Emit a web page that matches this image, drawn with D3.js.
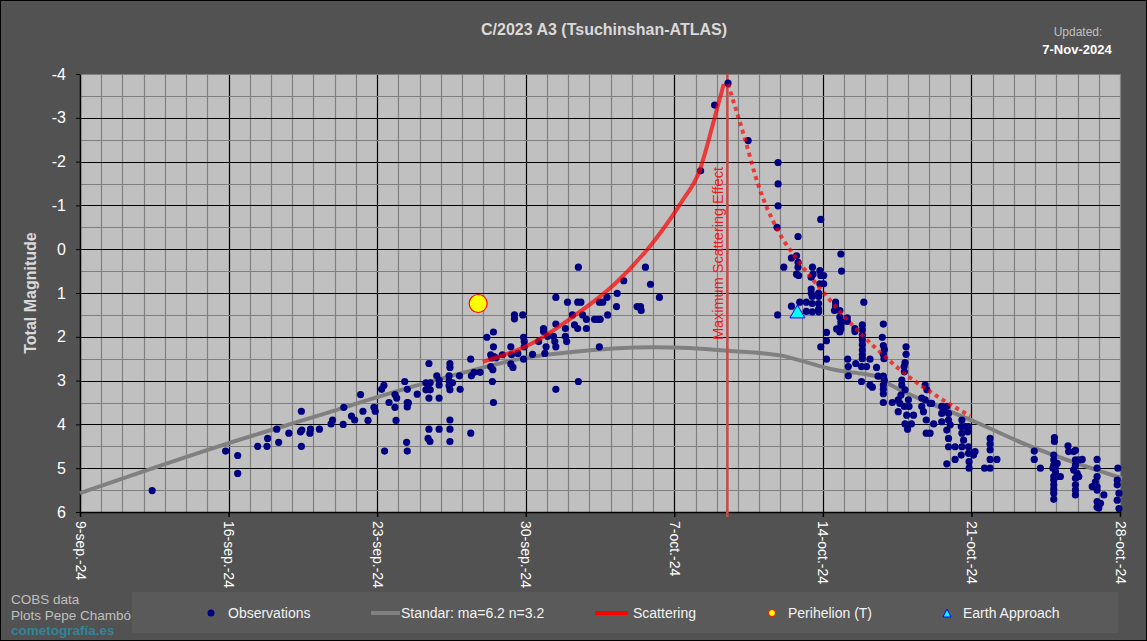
<!DOCTYPE html>
<html>
<head>
<meta charset="utf-8">
<script src="https://cdn.jsdelivr.net/npm/d3@7"></script>
<style>
  body { margin: 0; background: #525252; }
  svg { display: block; font-family: "Liberation Sans", Arial, sans-serif; }
</style>
</head>
<body>
<svg id="chart"></svg>
<script>
// days counted from 9-sep-2024, magnitudes
const observations = [
  [3.4,5.51],[6.86,4.61],[7.43,4.71],[7.43,5.12],[8.37,4.5],[8.81,4.5],[8.84,4.32],[9.27,4.11],[9.36,4.41],[9.84,4.2],
  [10.43,3.7],[10.43,4.5],[10.39,4.17],[10.45,4.13],[10.86,4.11],[10.83,4.2],[11.28,4.11],[11.83,3.99],[11.9,3.9],[12.4,4.0],
  [12.43,3.61],[12.79,3.81],[12.94,3.9],[13.22,3.32],[13.33,3.7],[13.57,3.91],[13.85,3.61],[13.91,3.7],[14.21,3.2],[14.32,3.11],
  [14.35,4.61],[14.56,3.5],[14.84,3.32],[14.92,3.4],[14.84,3.61],[14.89,3.91],[15.3,3.02],[15.42,3.2],[15.42,3.5],[15.42,3.6],
  [15.39,4.41],[15.42,4.61],[15.47,3.51],[15.89,3.31],
  [16.44,2.61],[16.3,3.05],[16.5,3.05],[16.4,3.12],[16.3,3.21],[16.5,3.21],[16.44,3.4],[16.44,4.11],[16.4,4.32],[16.49,4.39],
  [16.81,2.89],[16.92,2.99],[16.92,3.1],[16.92,3.4],[16.92,4.11],
  [17.43,2.61],[17.43,2.7],[17.39,2.89],[17.39,3.01],[17.39,3.12],[17.43,3.21],[17.55,3.05],[17.43,3.9],[17.43,4.11],[17.43,4.39],
  [17.88,2.89],[17.91,3.2],[18.41,2.51],[18.44,2.89],[18.57,2.81],[18.41,4.2],[18.85,2.81],
  [19.17,2.01],[19.48,1.89],[19.48,2.23],[19.35,2.41],[19.5,2.45],[19.4,2.48],[19.6,2.48],[19.35,2.68],[19.45,2.75],[19.43,3.02],[19.48,3.5],
  [19.9,2.41],[20.3,2.23],[20.33,2.41],[20.3,2.62],[20.4,2.7],[20.47,1.5],[20.47,1.59],[20.86,1.5],[20.63,2.38],[20.9,2.01],[20.93,2.11],[20.93,2.23],[20.9,2.51],
  [21.32,2.4],[21.61,2.11],[21.84,1.81],[21.84,1.88],[21.96,2.23],[21.9,2.38],[22.03,1.99],[22.31,1.99],[22.37,2.11],[22.42,2.23],[22.42,1.71],[22.42,3.2],[22.42,1.1],
  [22.87,1.81],[22.87,1.99],[22.93,2.11],[22.97,1.21],[23.2,1.5],[23.3,1.73],[23.45,1.81],[23.45,1.21],[23.6,1.21],[23.48,0.41],[23.48,3.02],[23.68,1.5],[23.86,1.6],[23.86,1.81],
  [24.24,1.6],[24.39,1.6],[24.51,1.6],[24.47,2.23],[24.47,1.21],[24.63,1.21],[24.83,1.1],[24.86,1.5],[25.28,1.31],[25.31,1.01],[25.62,0.72],[26.25,1.31],[26.41,1.31],[26.44,1.4],[26.64,0.41],[26.88,0.8],[27.3,1.1],
  [29.24,-1.79],[29.9,-3.29],[30.53,-3.79],[31.48,-2.48],
  [32.89,-1.98],[32.89,-1.49],[32.89,-0.99],[32.84,-0.5],[34.9,-0.68],[33.83,-0.29],[33.52,0.2],[33.16,0.41],[33.76,0.15],[33.83,0.3],[33.83,0.41],[33.76,0.57],[33.86,0.6],
  [34.51,0.41],[34.54,0.57],[34.45,0.64],[34.86,0.49],[34.9,0.6],[35.04,0.6],[35.04,0.79],[34.86,0.79],[35.85,0.11],[35.88,0.5],
  [34.45,0.91],[34.45,1.0],[34.5,1.08],[34.8,1.0],[34.8,1.08],[34.5,1.24],[34.8,1.24],[34.8,1.37],[34.5,1.43],[34.8,1.43],
  [32.87,1.5],[33.52,1.3],[33.91,1.21],[34.22,1.21],[34.22,1.42],
  [35.6,1.21],[35.6,1.3],[35.55,1.4],[35.8,1.4],[35.8,1.55],[35.85,1.65],[35.85,1.73],[35.85,1.82],[35.8,1.89],[35.65,1.82],[36.93,1.21],
  [35.17,1.9],[35.17,2.09],[34.9,2.23],[35.17,2.51],
  [36.15,1.57],[36.15,1.65],[36.51,1.81],[36.51,1.88],[36.86,1.73],[36.86,1.84],[36.86,1.96],[36.86,2.07],[36.86,2.18],[36.86,2.3],[36.86,2.41],[36.86,2.5],
  [36.17,2.51],[36.2,2.68],[36.2,2.89],[36.55,2.61],[36.82,2.68],[37.06,2.68],[37.22,2.51],[36.82,3.02],[37.22,3.1],
  [37.85,1.71],[37.8,2.01],[37.85,2.2],[37.9,2.29],[37.85,2.4],[37.88,2.5],[37.53,2.7],[37.6,2.9],[37.85,2.9],[37.9,3.0],[37.85,3.1],[37.85,3.2],[37.85,3.3],[37.85,3.5],[37.33,3.15],[38.27,3.5],
  [38.92,2.23],[38.92,2.4],[38.87,2.59],[38.83,2.68],[38.84,2.8],[38.72,2.99],[38.72,3.1],[38.87,3.21],[38.68,3.33],[38.55,3.44],[38.63,3.52],[38.55,3.71],[38.84,3.59],[39.03,3.44],[39.06,3.59],[38.95,3.79],[39.27,3.79],[38.87,3.99],[39.17,3.99],[38.99,4.11],
  [39.82,3.1],[39.9,3.21],[39.66,3.4],[39.82,3.44],[39.66,3.59],[39.74,3.71],[40.05,3.52],[40.13,3.52],[39.87,3.9],[40.22,3.99],[39.87,4.2],[40.05,4.2],
  [40.6,3.59],[40.68,3.67],[40.84,3.59],[40.6,3.75],[40.92,3.75],[40.6,3.94],[40.92,3.9],[41.0,4.01],[40.84,4.13],[40.92,4.32],[40.92,4.51],[41.23,4.51],[41.23,4.8],[40.84,4.9],
  [41.55,3.9],[41.52,4.05],[41.55,4.2],[41.71,4.05],[41.86,4.05],[41.83,4.17],[41.63,4.36],[41.55,4.51],[41.86,4.51],[41.86,4.66],[41.52,4.7],[41.89,4.85],[41.89,5.0],[42.17,4.62],[42.1,4.7],
  [42.88,4.32],[42.88,4.45],[42.88,4.58],[42.88,4.8],[43.2,4.8],[42.62,5.0],[42.88,5.0],
  [44.96,4.61],[44.96,4.8],[45.25,5.0],
  [45.91,4.3],[45.91,4.39],[45.88,4.7],[45.88,4.81],[45.88,4.93],[45.96,4.96],[46.04,4.89],[45.84,5.0],[45.96,5.08],[45.88,5.19],[46.03,5.19],[46.19,5.19],[45.88,5.27],[45.88,5.38],[45.88,5.48],[45.88,5.57],[45.88,5.71],
  [46.55,4.49],[46.58,4.62],[46.82,4.62],[46.9,4.59],[46.9,4.81],[47.06,4.81],[47.22,4.8],[46.9,4.93],[46.82,5.04],[46.98,5.12],[47.06,5.19],[46.9,5.23],[46.9,5.38],[46.9,5.5],[46.9,5.61],
  [47.92,4.8],[47.92,5.0],[47.92,5.19],[47.84,5.31],[47.69,5.42],[47.92,5.42],[47.92,5.5],[48.24,5.61],[47.92,5.76],[48.08,5.8],[47.92,5.89],[48.0,5.91],
  [48.9,5.0],[48.87,5.27],[48.87,5.38],[48.95,5.57],[48.87,5.73],[48.95,5.92]
];

// standard curve ma=6.2 n=3.2
const standardCurve = [
  [0,5.57],[6.86,4.45],[11.02,3.83],[15.58,3.15],[18.85,2.72],[21.09,2.47],[23.29,2.34],[27.07,2.24],[28.33,2.25],
  [30.53,2.32],[33.05,2.43],[34.0,2.55],[35.6,2.76],[36.8,2.84],[37.5,2.9],[38.2,3.1],[40.6,3.63],[42.16,3.94],[44.38,4.42],[49.1,5.23]
];
// scattering curve, solid part then dotted part
const scatteringRise = [
  [18.98,2.57],[21.09,2.2],[23.29,1.52],[25.18,0.8],[27.07,-0.2],[28.33,-1.07],[29.19,-1.79],[29.9,-3.0],[30.33,-3.77]
];
const scatteringFall = [
  [30.53,-3.77],[31.31,-2.55],[31.94,-1.49],[32.89,-0.42],[33.83,0.26],[35.09,1.02],[36.19,1.63],[37.45,2.24],[39.1,2.93],[40.36,3.35],[41.94,3.81]
];
const perihelion = [18.76, 1.24];
const earthApproach = [33.8, 1.42];
const maxScatteringDay = 30.5;

const xTickDays = [0, 7, 14, 21, 28, 35, 42, 49];
const xTickLabels = ["9-sep.-24","16-sep.-24","23-sep.-24","30-sep.-24","7-oct.-24","14-oct.-24","21-oct.-24","28-oct.-24"];
const yTickValues = [-4,-3,-2,-1,0,1,2,3,4,5,6];
const legendLabels = ["Observations","Standar: ma=6.2 n=3.2","Scattering","Perihelion (T)","Earth Approach"];

const width = 1147, height = 641;
const margin = {left: 80, right: 27, top: 74, bottom: 129};
const start = new Date(2024, 8, 9);
const toDate = d => new Date(start.getTime() + d * 864e5);

const svg = d3.select('#chart').attr('width', width).attr('height', height);
svg.append('rect').attr('x', 0.5).attr('y', 0.5).attr('width', width - 1).attr('height', height - 1)
  .attr('fill', '#525252').attr('stroke', '#000');

const x = d3.scaleTime().domain([start, toDate(49)]).range([margin.left, width - margin.right]);
const y = d3.scaleLinear().domain([-4, 6]).range([margin.top, height - margin.bottom]);
const X = d => x(toDate(d));

// plot background
svg.append('rect').attr('x', x.range()[0]).attr('y', y(-4))
  .attr('width', x.range()[1] - x.range()[0]).attr('height', y(6) - y(-4)).attr('fill', '#c0c0c0');

// grid
const grid = svg.append('g');
d3.range(1, 50).forEach(d => {
  grid.append('line').attr('x1', Math.round(X(d)) + 0.5).attr('x2', Math.round(X(d)) + 0.5)
    .attr('y1', y(-4)).attr('y2', y(6))
    .attr('stroke', d % 7 === 0 && d < 49 ? '#000' : '#808080').attr('stroke-width', 1.2);
});
d3.range(-4, 6, 0.5).forEach(m => {
  grid.append('line').attr('x1', x.range()[0]).attr('x2', x.range()[1])
    .attr('y1', Math.round(y(m)) + 0.5).attr('y2', Math.round(y(m)) + 0.5)
    .attr('stroke', Number.isInteger(m) && m > -4 ? '#000' : '#808080').attr('stroke-width', 1.2);
});

// axes
const xAxis = svg.append('g').attr('transform', 'translate(0,' + y(6) + ')')
  .call(d3.axisBottom(x).tickValues(xTickDays.map(toDate))
    .tickFormat((d, i) => xTickLabels[i]).tickSize(5).tickSizeOuter(0));
xAxis.select('.domain').attr('stroke', '#000').attr('stroke-width', 1.5);
xAxis.selectAll('.tick line').attr('stroke', '#000').attr('stroke-width', 1.5);
xAxis.selectAll('.tick text')
  .attr('fill', '#fff').attr('font-size', 14).attr('text-anchor', 'start')
  .attr('dy', '0.35em').attr('x', 0).attr('y', 0)
  .attr('transform', 'translate(0,9) rotate(90)');

const yAxis = svg.append('g').attr('transform', 'translate(' + x.range()[0] + ',0)')
  .call(d3.axisLeft(y).tickValues(yTickValues).tickFormat(d => d).tickSize(4).tickSizeOuter(0).tickPadding(10));
yAxis.select('.domain').attr('stroke', '#000').attr('stroke-width', 1.5);
yAxis.selectAll('.tick line').attr('stroke', '#000');
yAxis.selectAll('.tick text').attr('fill', '#fff').attr('font-size', 16);

// standard curve
const line = d3.line().x(d => X(d[0])).y(d => y(d[1])).curve(d3.curveMonotoneX);
svg.append('path').datum(standardCurve).attr('d', line)
  .attr('fill', 'none').attr('stroke', '#808080').attr('stroke-width', 4);

// max scattering line
svg.append('line').attr('x1', X(maxScatteringDay)).attr('x2', X(maxScatteringDay))
  .attr('y1', y(-4)).attr('y2', y(6) + 5).attr('stroke', '#c0504d').attr('stroke-width', 2.6);
svg.append('text').attr('transform', 'translate(' + (X(maxScatteringDay) - 4) + ',' + y(0.1) + ') rotate(-90)')
  .attr('text-anchor', 'middle').attr('font-size', 14.5).attr('fill', '#ee1c1c')
  .text('Maximum Scattering Effect');

// observations
svg.append('g').selectAll('circle').data(observations).enter().append('circle')
  .attr('cx', d => X(d[0])).attr('cy', d => y(d[1])).attr('r', 3.6).attr('fill', '#000080');

// scattering
svg.append('path').datum(scatteringRise).attr('d', line)
  .attr('fill', 'none').attr('stroke', '#ff0000').attr('stroke-opacity', 0.7).attr('stroke-width', 4);
svg.append('path').datum(scatteringFall).attr('d', line)
  .attr('fill', 'none').attr('stroke', '#ff0000').attr('stroke-opacity', 0.7).attr('stroke-width', 4)
  .attr('stroke-dasharray', '4,4');

// perihelion and earth approach
svg.append('circle').attr('cx', X(perihelion[0])).attr('cy', y(perihelion[1])).attr('r', 9)
  .attr('fill', '#ffff00').attr('stroke', '#ff0000').attr('stroke-width', 1.2);
const tri = (cx, cy, w, h) => 'M' + cx + ',' + (cy - h / 2) + 'L' + (cx + w / 2) + ',' + (cy + h / 2) + 'L' + (cx - w / 2) + ',' + (cy + h / 2) + 'Z';
svg.append('path').attr('d', tri(X(earthApproach[0]), y(earthApproach[1]), 15, 13))
  .attr('fill', '#00ffff').attr('stroke', '#0000ff').attr('stroke-width', 1);

// titles
svg.append('text').attr('x', 604).attr('y', 35).attr('text-anchor', 'middle')
  .attr('font-size', 16).attr('font-weight', 'bold').attr('fill', '#d9d9d9')
  .text('C/2023 A3 (Tsuchinshan-ATLAS)');
svg.append('text').attr('x', 1078).attr('y', 36).attr('text-anchor', 'middle')
  .attr('font-size', 12).attr('fill', '#bfbfbf').text('Updated:');
svg.append('text').attr('x', 1077).attr('y', 54).attr('text-anchor', 'middle')
  .attr('font-size', 13).attr('font-weight', 'bold').attr('fill', '#fff').text('7-Nov-2024');
svg.append('text').attr('transform', 'translate(36,' + y(1) + ') rotate(-90)')
  .attr('text-anchor', 'middle').attr('font-size', 16).attr('font-weight', 'bold').attr('fill', '#d9d9d9')
  .text('Total Magnitude');

// credits
svg.append('text').attr('x', 11).attr('y', 604).attr('font-size', 13.5).attr('fill', '#bfbfbf').text('COBS data');
svg.append('text').attr('x', 11).attr('y', 620).attr('font-size', 13.5).attr('fill', '#bfbfbf').text('Plots Pepe Chambó');
svg.append('text').attr('x', 11).attr('y', 635).attr('font-size', 13.5).attr('font-weight', 'bold').attr('fill', '#31849b').text('cometografía.es');

// legend
const legend = svg.append('g');
legend.append('rect').attr('x', 132).attr('y', 592).attr('width', 986).attr('height', 41).attr('fill', '#5a5a5a');
const ly = 613;
legend.append('circle').attr('cx', 211).attr('cy', ly).attr('r', 3.5).attr('fill', '#000080');
legend.append('line').attr('x1', 371).attr('x2', 400).attr('y1', ly).attr('y2', ly).attr('stroke', '#808080').attr('stroke-width', 4);
legend.append('line').attr('x1', 595).attr('x2', 628).attr('y1', ly).attr('y2', ly).attr('stroke', '#ff0000').attr('stroke-width', 4);
legend.append('circle').attr('cx', 772).attr('cy', ly).attr('r', 3.5).attr('fill', '#ffff00').attr('stroke', '#ff0000').attr('stroke-width', 1);
legend.append('path').attr('d', tri(947, ly, 8, 8)).attr('fill', '#00ffff').attr('stroke', '#0000ff').attr('stroke-width', 1);
const legendX = [228, 401, 633, 788, 963];
legend.selectAll('text.lg').data(legendLabels).enter().append('text').attr('class', 'lg')
  .attr('x', (d, i) => legendX[i]).attr('y', ly).attr('dy', '0.35em')
  .attr('font-size', 14).attr('fill', '#f2f2f2').text(d => d);
</script>
</body>
</html>
